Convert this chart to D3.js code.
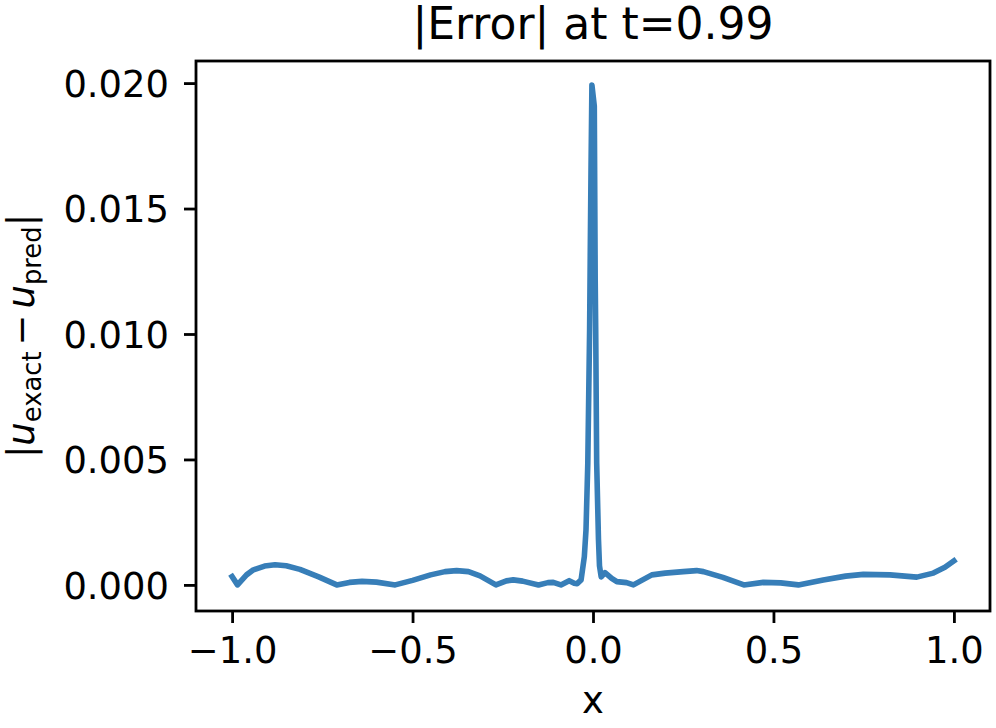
<!DOCTYPE html>
<html>
<head>
<meta charset="utf-8">
<script src="https://cdn.jsdelivr.net/npm/d3@7"></script>
<style>
  body { margin: 0; background: #fff; }
  svg { display: block; font-family: "DejaVu Sans", sans-serif; }
</style>
</head>
<body>
<svg id="chart" width="996" height="728"></svg>
<script>
// ---- data ----
const xValues = [
  -1.000, -0.985, -0.960, -0.941, -0.910, -0.881, -0.850, -0.812, -0.760, -0.710,
  -0.675, -0.640, -0.600, -0.548, -0.500, -0.450, -0.410, -0.378, -0.345, -0.313,
  -0.269, -0.240, -0.221, -0.195, -0.151, -0.125, -0.110, -0.089, -0.066, -0.052,
  -0.044, -0.033, -0.024, -0.0194, -0.0144, -0.0094, -0.0075, -0.0055, -0.0030,
  0.0036, 0.0061, 0.0075, 0.0102, 0.0152, 0.0180, 0.0227, 0.0332, 0.0518, 0.066,
  0.093, 0.112, 0.140, 0.163, 0.200, 0.250, 0.287, 0.306, 0.360, 0.418, 0.472,
  0.520, 0.569, 0.638, 0.700, 0.749, 0.823, 0.897, 0.943, 0.975, 1.000
];
const errValues = [
  0.00033, 0.00000, 0.00040, 0.00060, 0.00075, 0.00080, 0.00076, 0.00062, 0.00032, 0.00000,
  0.00010, 0.00014, 0.00011, 0.00000, 0.00018, 0.00040, 0.00053, 0.00057, 0.00053, 0.00036,
  0.00000, 0.00016, 0.00020, 0.00015, 0.00000, 0.00009, 0.00010, 0.00000, 0.00017, 0.00007,
  0.00005, 0.00020, 0.00113, 0.00219, 0.00486, 0.01016, 0.01335, 0.01653, 0.01992,
  0.01908, 0.01215, 0.01016, 0.00486, 0.00180, 0.00076, 0.00032, 0.00049, 0.00026, 0.00013,
  0.00009, 0.00000, 0.00022, 0.00040, 0.00047, 0.00053, 0.00057, 0.00053, 0.00030, 0.00000, 0.00010,
  0.00008, 0.00000, 0.00020, 0.00035, 0.00042, 0.00040, 0.00031, 0.00047, 0.00070, 0.00096
];
const xTicks = [-1.0, -0.5, 0.0, 0.5, 1.0];
const yTicks = [0.000, 0.005, 0.010, 0.015, 0.020];
const xDomain = [-1.1, 1.1];
const yDomain = [-0.00104, 0.02088];
const titleText = "|Error| at t=0.99";
const xLabelText = "x";

// ---- layout ----
const svg = d3.select("#chart");
const L = 196, R = 990, T = 61, B = 611;
const fs = 36.9;
const x = d3.scaleLinear().domain(xDomain).range([L, R]);
const y = d3.scaleLinear().domain(yDomain).range([B, T]);
const fmtX = v => d3.format(".1f")(v).replace("-", "\u2212");
const fmtY = v => d3.format(".3f")(v);

// line
const data = xValues.map((xv, i) => ({ x: xv, v: errValues[i] }));
svg.append("path")
  .datum(data)
  .attr("fill", "none")
  .attr("stroke", "#377eb8")
  .attr("stroke-width", 5.6)
  .attr("stroke-linejoin", "round")
  .attr("stroke-linecap", "square")
  .attr("d", d3.line().curve(d3.curveLinear).x(d => x(d.x)).y(d => y(d.v)));

// axes via d3 axis
const xAxis = svg.append("g")
  .attr("transform", `translate(0,${B})`)
  .call(d3.axisBottom(x).tickValues(xTicks).tickFormat(fmtX).tickSize(12).tickPadding(12).tickSizeOuter(0));
const yAxis = svg.append("g")
  .attr("transform", `translate(${L},0)`)
  .call(d3.axisLeft(y).tickValues(yTicks).tickFormat(fmtY).tickSize(12).tickPadding(15).tickSizeOuter(0));

[xAxis, yAxis].forEach(g => {
  g.select(".domain").remove();
  g.selectAll(".tick line").attr("stroke", "#000").attr("stroke-width", 2.8);
  g.selectAll(".tick text")
    .attr("fill", "#000")
    .attr("font-size", fs)
    .attr("font-family", "DejaVu Sans, sans-serif");
});
xAxis.selectAll(".tick text").attr("dy", null).attr("y", 52);
yAxis.selectAll(".tick text").attr("dy", "0.36em");

// frame
svg.append("rect")
  .attr("x", L).attr("y", T)
  .attr("width", R - L).attr("height", B - T)
  .attr("fill", "none")
  .attr("stroke", "#000")
  .attr("stroke-width", 2.8)
  .attr("stroke-linejoin", "miter");

// title
svg.append("text")
  .attr("x", (L + R) / 2).attr("y", 39)
  .attr("text-anchor", "middle")
  .attr("font-size", 44)
  .attr("fill", "#000")
  .text(titleText);

// x label
svg.append("text")
  .attr("x", (L + R) / 2).attr("y", 713)
  .attr("text-anchor", "middle")
  .attr("font-size", fs)
  .attr("fill", "#000")
  .text(xLabelText);

// y label: |u_exact − u_pred|
const sub = 0.7 * fs;
const drop = 0.2 * fs;
const yl = svg.append("text")
  .attr("transform", `translate(34,${(T + B) / 2}) rotate(-90)`)
  .attr("text-anchor", "middle")
  .attr("font-size", fs)
  .attr("fill", "#000");
yl.append("tspan").text("|");
yl.append("tspan").attr("font-style", "oblique").text("u");
yl.append("tspan").attr("font-size", sub).attr("dy", drop).text("exact");
yl.append("tspan").attr("dy", -drop).attr("dx", 6).text("\u2212");
yl.append("tspan").attr("dx", 6).attr("font-style", "oblique").text("u");
yl.append("tspan").attr("font-size", sub).attr("dy", drop).text("pred");
yl.append("tspan").attr("dy", -drop).text("|");
</script>
</body>
</html>
